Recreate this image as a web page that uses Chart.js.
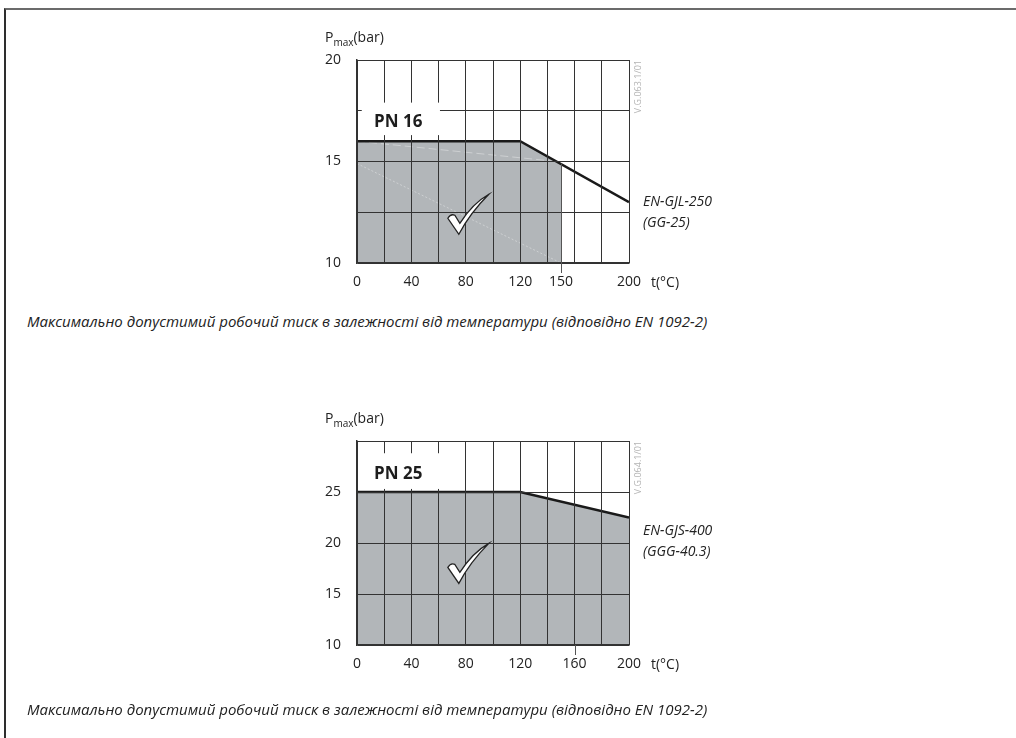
<!DOCTYPE html>
<html>
<head>
<meta charset="utf-8">
<script src="https://cdn.jsdelivr.net/npm/chart.js@4.4.1/dist/chart.umd.min.js"></script>
<style>
  html, body { margin: 0; padding: 0; background: #fff; width: 1016px; height: 738px; overflow: hidden; }
  #frame { position: absolute; left: 4px; top: 8px; width: 1100px; height: 800px;
           border-top: 2px solid #6b6b6b; border-left: 2px solid #2e2e2e; }
  .cap { position: absolute; left: 27px; font: italic 15px "Open Sans"; color: #222; white-space: nowrap; }
  canvas { position: absolute; left: 0; }
</style>
</head>
<body>
<div id="frame"></div>
<canvas id="chart16" width="1016" height="300" style="top:0"></canvas>
<div class="cap" style="top:311px">Максимально допустимий робочий тиск в залежності від температури (відповідно EN 1092-2)</div>
<canvas id="chart25" width="1016" height="320" style="top:380px"></canvas>
<div class="cap" style="top:699px">Максимально допустимий робочий тиск в залежності від температури (відповідно EN 1092-2)</div>

<script>
// PN 16 - EN-GJL-250 (GG-25)
const temp16 = [0, 120, 200];
const pmax16 = [16, 16, 13];
const fillTemp16 = [0, 120, 150];
const fillPmax16 = [16, 16, 14.9];
const xLabels16 = [0, 40, 80, 120, 150, 200];
const yLabels16 = [10, 15, 20];

// PN 25 - EN-GJS-400 (GGG-40.3)
const temp25 = [0, 120, 200];
const pmax25 = [25, 25, 22.5];
const xLabels25 = [0, 40, 80, 120, 160, 200];
const yLabels25 = [10, 15, 20, 25];

const FONT = '"Open Sans", "DejaVu Sans", sans-serif';
const GRID = '#333';
const FILL = '#b2b6b9';

function pts(xs, ys) { return xs.map((v, i) => ({ x: v, y: ys[i] })); }

// text, box, check mark and extra tick drawn on top of the chart
const decor = {
  id: 'decor',
  afterDraw(chart, args, o) {
    const { ctx, chartArea: a, scales: { x, y } } = chart;
    ctx.save();

    // long tick under the axis
    const tx = Math.round(x.getPixelForValue(o.longTick)) + 0.5;
    ctx.strokeStyle = '#555';
    ctx.lineWidth = 1;
    ctx.beginPath();
    ctx.moveTo(tx, o.edgeTop != null ? y.getPixelForValue(o.edgeTop) : a.bottom);
    ctx.lineTo(tx, a.bottom + 10);
    ctx.stroke();

    // white box behind PN label
    const bx0 = x.getPixelForValue(o.box[0]), bx1 = x.getPixelForValue(o.box[1]);
    const by0 = y.getPixelForValue(o.box[3]), by1 = y.getPixelForValue(o.box[2]);
    ctx.fillStyle = '#fff';
    ctx.fillRect(bx0, by0, bx1 - bx0, by1 - by0);
    ctx.fillStyle = '#1d1d1d';
    ctx.font = 'bold 17px ' + FONT;
    ctx.textBaseline = 'alphabetic';
    ctx.textAlign = 'left';
    ctx.fillText(o.pn, x.getPixelForValue(o.pnAt[0]), y.getPixelForValue(o.pnAt[1]));

    // check mark
    const cx = x.getPixelForValue(o.check[0]), cy = y.getPixelForValue(o.check[1]);
    ctx.beginPath();
    ctx.moveTo(cx - 20, cy + 4);
    ctx.quadraticCurveTo(cx - 17, cy - 1, cx - 13, cy + 1);
    ctx.lineTo(cx - 8, cy + 9);
    ctx.quadraticCurveTo(cx + 5, cy - 11, cx + 21, cy - 20);
    ctx.quadraticCurveTo(cx + 2, cy - 1, cx - 9, cy + 20);
    ctx.closePath();
    ctx.fillStyle = '#fff';
    ctx.fill();
    ctx.strokeStyle = '#222';
    ctx.lineWidth = 1.3;
    ctx.stroke();

    // axis title P_max(bar)
    ctx.fillStyle = '#222';
    ctx.font = '14px ' + FONT;
    let px = a.left - 32;
    const py = a.top - 18;
    ctx.fillText('P', px, py);
    px += ctx.measureText('P').width;
    ctx.font = '10px ' + FONT;
    ctx.fillText('max', px, py + 4);
    px += ctx.measureText('max').width;
    ctx.font = '14px ' + FONT;
    ctx.fillText('(bar)', px, py);

    // t(°C)
    ctx.textBaseline = 'middle';
    ctx.fillText('t(°C)', x.getPixelForValue(200) + 22, a.bottom + 20);

    // material labels
    ctx.font = 'italic 14px ' + FONT;
    const ly = y.getPixelForValue(o.labelAt);
    ctx.fillText(o.mat[0], a.right + 14, ly);
    ctx.fillText(o.mat[1], a.right + 14, ly + 21);

    // drawing code, rotated
    ctx.translate(a.right + 9, a.top);
    ctx.rotate(-Math.PI / 2);
    ctx.font = '9px ' + FONT;
    ctx.fillStyle = '#b4b4b4';
    ctx.textAlign = 'right';
    ctx.fillText(o.code, 0, 0);
    ctx.restore();
  }
};

function makeChart(id, cfg) {
  const datasets = [
    { data: cfg.line, fill: false, borderColor: '#1a1a1a', borderWidth: 2.5, pointRadius: 0, order: 1 },
    ...cfg.extra,
    { data: cfg.fill, fill: 'start', backgroundColor: FILL, borderWidth: 0, pointRadius: 0, order: 3 }
  ];
  return new Chart(document.getElementById(id), {
    type: 'line',
    data: { datasets },
    plugins: [decor],
    options: {
      responsive: false,
      animation: false,
      layout: { padding: { left: 317, right: 387, top: cfg.padTop, bottom: cfg.padBottom } },
      plugins: { legend: { display: false }, tooltip: { enabled: false }, decor: cfg.decor },
      scales: {
        x: {
          type: 'linear', min: 0, max: 200,
          afterBuildTicks: s => {
            const v = [];
            for (let t = 0; t <= 200; t += 20) v.push(t);
            cfg.xLabels.forEach(t => { if (!v.includes(t)) v.push(t); });
            s.ticks = v.sort((p, q) => p - q).map(t => ({ value: t }));
          },
          afterFit: s => { s.height = 30; },
          grid: {
            z: 1,
            drawTicks: false,
            color: c => (c.tick && c.tick.value % 20 !== 0) ? 'rgba(0,0,0,0)' : GRID,
            lineWidth: 1
          },
          border: { display: true, color: GRID, width: 1.5, z: 2 },
          ticks: {
            padding: 11, maxRotation: 0, autoSkip: false, color: '#222',
            font: { family: FONT, size: 14 },
            callback: v => cfg.xLabels.includes(v) ? String(v) : ''
          }
        },
        y: {
          min: cfg.yMin, max: cfg.yMax,
          afterBuildTicks: s => {
            const v = [];
            for (let t = cfg.yMin; t <= cfg.yMax; t += cfg.yStep) v.push(t);
            s.ticks = v.map(t => ({ value: t }));
          },
          afterFit: s => { s.width = 40; },
          grid: { z: 1, drawTicks: false, color: GRID, lineWidth: 1 },
          border: { display: true, color: GRID, width: 1.5, z: 2 },
          ticks: {
            padding: 16, color: '#222',
            font: { family: FONT, size: 14 },
            callback: v => cfg.yLabels.includes(v) ? String(v) : ''
          }
        }
      }
    }
  });
}

makeChart('chart16', {
  line: pts(temp16, pmax16),
  fill: pts(fillTemp16, fillPmax16),
  extra: [
    { data: pts([0, 147], [16, 15]), fill: false, borderColor: 'rgba(255,255,255,0.35)', borderWidth: 1, borderDash: [8, 4], pointRadius: 0, order: 2 },
    { data: pts([0, 150], [14.9, 10]), fill: false, borderColor: 'rgba(255,255,255,0.35)', borderWidth: 1, borderDash: [2, 2], pointRadius: 0, order: 2 }
  ],
  xLabels: xLabels16, yLabels: yLabels16,
  yMin: 10, yMax: 20, yStep: 2.5,
  padTop: 60, padBottom: 7,
  decor: {
    longTick: 150, edgeTop: 14.9,
    box: [3.5, 61, 16.3, 17.9],
    pn: 'PN 16', pnAt: [12.5, 16.7],
    check: [81.5, 12.4],
    mat: ['EN-GJL-250', '(GG-25)'], labelAt: 13.0,
    code: 'V.G.063.1/01'
  }
});

makeChart('chart25', {
  line: pts(temp25, pmax25),
  fill: pts(temp25, pmax25),
  extra: [],
  xLabels: xLabels25, yLabels: yLabels25,
  yMin: 10, yMax: 30, yStep: 5,
  padTop: 61, padBottom: 25,
  decor: {
    longTick: 160, edgeTop: null,
    box: [3.5, 62, 25.3, 28.8],
    pn: 'PN 25', pnAt: [12.5, 26.3],
    check: [81.5, 18.0],
    mat: ['EN-GJS-400', '(GGG-40.3)'], labelAt: 21.2,
    code: 'V.G.064.1/01'
  }
});
</script>
</body>
</html>
